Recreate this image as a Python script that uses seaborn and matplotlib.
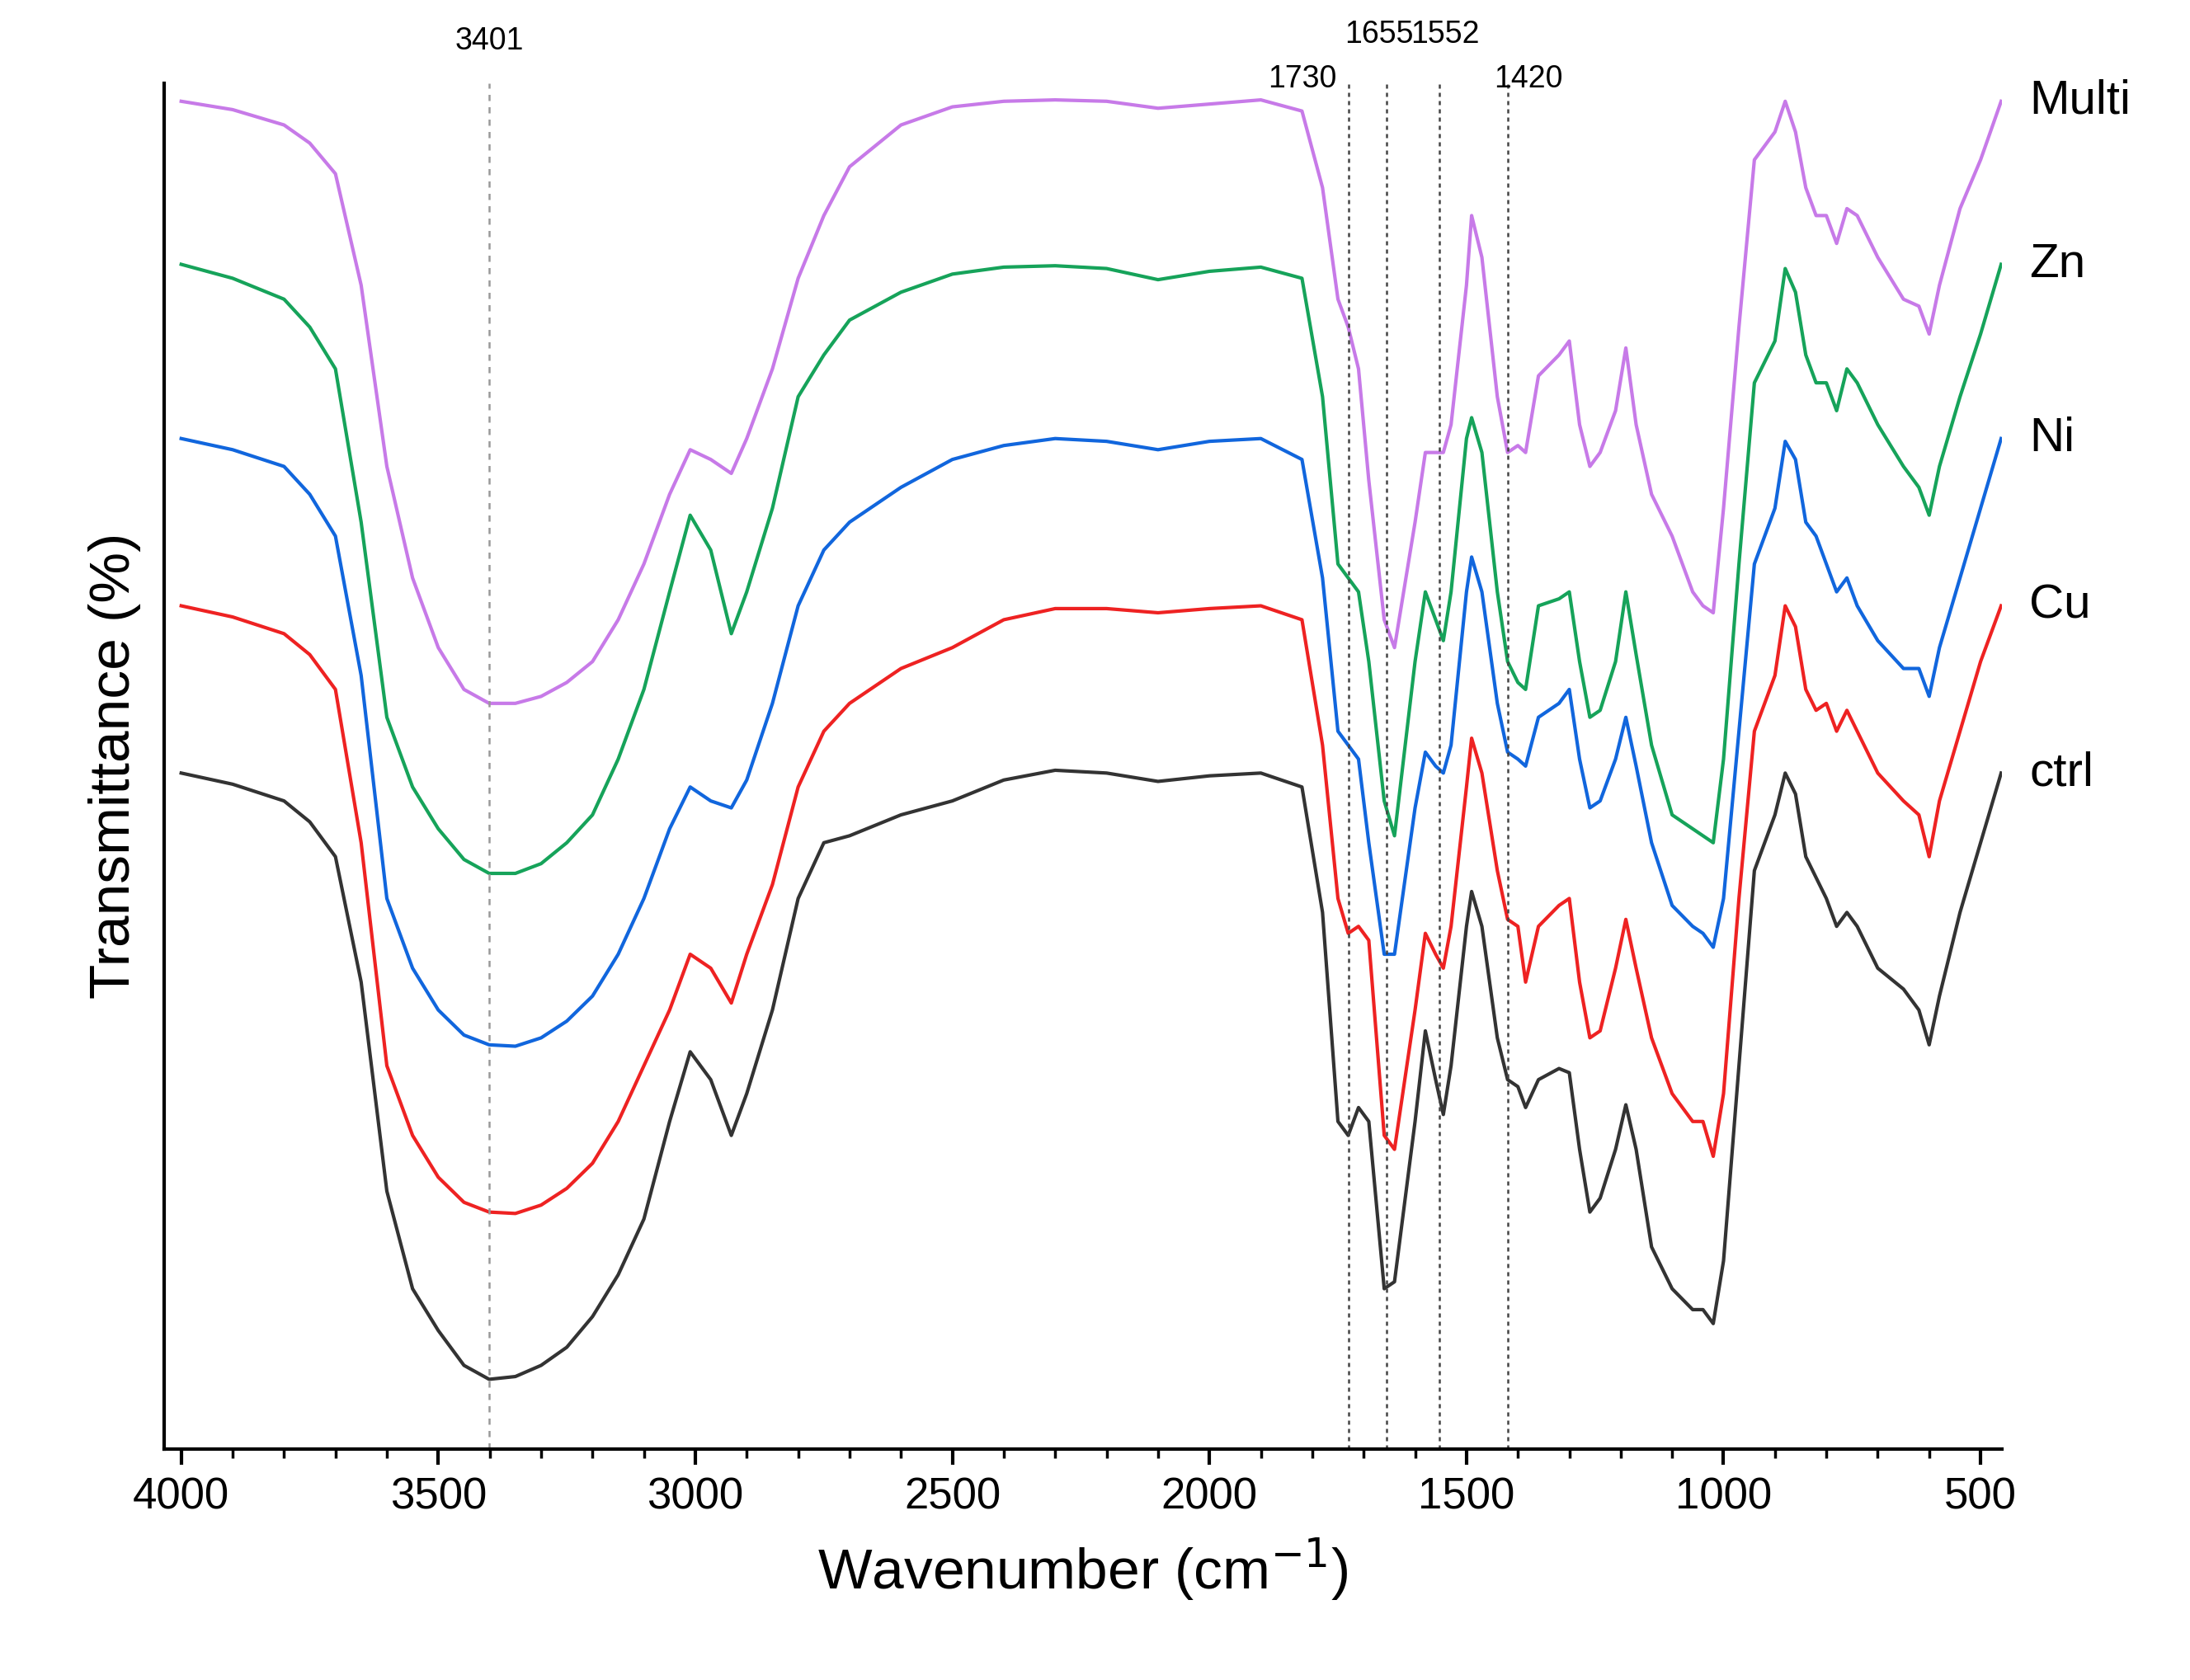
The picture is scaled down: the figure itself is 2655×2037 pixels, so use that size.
import numpy as np
import pandas as pd
import matplotlib
matplotlib.use("Agg")
import matplotlib.pyplot as plt
import seaborn as sns
from matplotlib.ticker import MultipleLocator

plt.rcParams["font.family"] = "Liberation Sans"

wavenumber = [4000,3900,3800,3750,3700,3650,3600,3550,3500,3450,3401,3350,3300,3250,3200,3150,3100,3050,3010,2970,2930,2900,2850,2800,2750,2700,2600,
              2500,2400,2300,2200,2100,2000,1900,1820,1780,1750,1730,1710,1690,1660,1640,1600,1580,1560,1545,1530,
              1500,1490,1470,1440,1420,1400,1385,1360,1320,1300,1280,1260,1240,1210,1190,1170,1140,1100,1060,1040,
              1020,1000,970,940,900,880,860,840,820,800,780,760,740,700,650,620,600,580,540,500,460]

ctrl = [550,558,570,585,610,700,850,920,950,975,985,983,975,962,940,910,870,800,750,770,810,780,720,640,600,595,580,
        570,555,548,550,556,552,550,560,650,800,810,790,800,920,915,800,735,770,795,760,
        660,635,660,740,770,775,790,770,762,765,820,865,855,820,788,820,890,920,935,935,
        945,900,760,620,580,550,565,610,625,640,660,650,660,690,705,720,745,710,650,600,550]
Cu = [430,438,450,465,490,600,760,810,840,858,865,866,860,848,830,800,760,720,680,690,715,680,630,560,520,500,475,
      460,440,432,432,435,432,430,440,530,640,665,660,670,810,820,720,665,680,690,660,
      560,525,550,620,655,660,700,660,645,640,700,740,735,690,655,690,740,780,800,800,
      825,780,640,520,480,430,445,490,505,500,520,505,520,550,570,580,610,570,520,470,430]
Ni = [310,318,330,350,380,480,640,690,720,738,745,746,740,728,710,680,640,590,560,570,575,555,500,430,390,370,345,
      325,315,310,312,318,312,310,325,410,520,530,540,600,680,680,575,535,545,550,530,
      420,395,420,500,535,540,545,510,500,490,540,575,570,540,510,545,600,645,660,665,
      675,640,520,400,360,312,325,370,380,400,420,410,430,455,475,475,495,460,410,360,310]
Zn = [185,195,210,230,260,370,510,560,590,612,622,622,615,600,580,540,490,420,365,390,450,420,360,280,250,225,205,
      192,187,186,188,196,190,187,195,280,400,410,420,470,570,595,470,420,440,455,420,
      310,295,320,420,470,485,490,430,425,420,470,510,505,470,420,465,530,580,590,595,
      600,540,400,270,240,188,205,250,270,270,290,260,270,300,330,345,365,330,280,235,185]
Multi = [68,74,85,98,120,200,330,410,460,490,500,500,495,485,470,440,400,350,318,325,335,310,260,195,150,115,85,
         72,68,67,68,73,70,67,75,130,210,230,260,340,440,460,370,320,320,320,300,
         200,150,180,280,320,315,320,265,250,240,300,330,320,290,245,300,350,380,420,430,
         435,360,230,110,90,68,90,130,150,150,170,145,150,180,210,215,235,200,145,110,68]

series_names = ["Multi", "Zn", "Ni", "Cu", "ctrl"]
series_vals = [Multi, Zn, Ni, Cu, ctrl]
colors = ["#c77ae8", "#16a35a", "#1166dd", "#ee2222", "#333333"]
peaks = [3401, 1730, 1655, 1552, 1420]

rows = []
for n, v in zip(series_names, series_vals):
    for x, y in zip(wavenumber, v):
        rows.append({"wn": x, "T": y, "s": n})
df = pd.DataFrame(rows)

fig = plt.figure(figsize=(26.55, 20.37), dpi=100)
ax = fig.add_axes([0.075, 0.1375, 0.839, 0.813])
sns.lineplot(data=df, x="wn", y="T", hue="s", hue_order=series_names,
             palette=colors, sort=False, estimator=None, lw=3, legend=False, ax=ax)
ax.set_xlim(4033, 459)
ax.set_ylim(1035, 55)
ax.set_yticks([])
ax.spines["top"].set_visible(False)
ax.spines["right"].set_visible(False)
for s in ["left", "bottom"]:
    ax.spines[s].set_linewidth(3)
ax.xaxis.set_major_locator(MultipleLocator(500))
ax.xaxis.set_minor_locator(MultipleLocator(100))
ax.tick_params(axis="x", which="major", length=14, width=3, labelsize=38, pad=10)
ax.tick_params(axis="x", which="minor", length=8, width=2.5)
ax.set_xlabel("Wavenumber (cm$^{-1}$)", fontsize=50, labelpad=16)
ax.set_ylabel("Transmittance (%)", fontsize=50, labelpad=20)

for p in peaks:
    if p == 3401:
        ax.axvline(p, color="#999999", ls=(0, (3, 3)), lw=1.8)
    else:
        ax.axvline(p, color="#444444", ls=(0, (2, 2)), lw=1.8)
label_y = {3401: 25, 1730: 52, 1655: 20, 1552: 20, 1420: 52}
label_dx = {3401: 0, 1730: 90, 1655: 15, 1552: -10, 1420: -40}
for p in peaks:
    ax.text(p + label_dx[p], label_y[p], str(p), fontsize=27, ha="center", va="center", clip_on=False)

for n, v in zip(series_names, series_vals):
    ax.text(405, v[0], n, fontsize=42, ha="left", va="center", clip_on=False)

fig.savefig("out.png", dpi=100)
